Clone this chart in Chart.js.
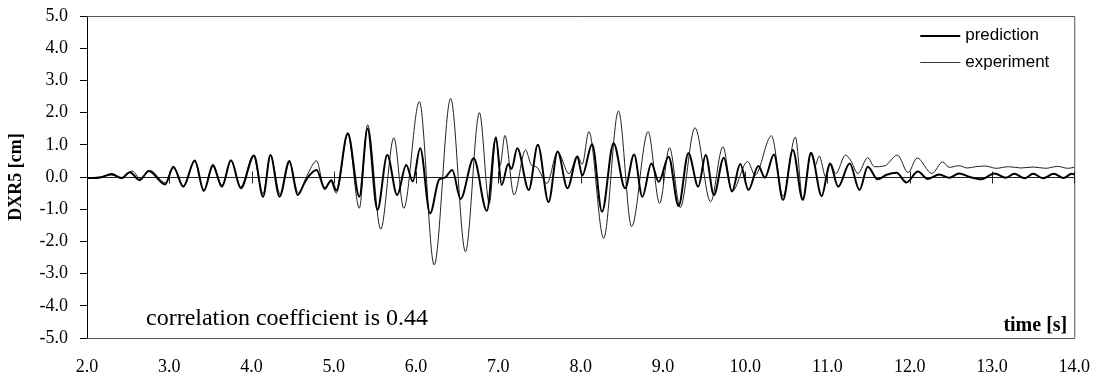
<!DOCTYPE html>
<html>
<head>
<meta charset="utf-8">
<script src="https://cdn.jsdelivr.net/npm/chart.js@4.4.1/dist/chart.umd.min.js"></script>
<style>
  html, body { margin: 0; padding: 0; background: #fff; }
  #wrap { width: 1100px; height: 385px; }
</style>
</head>
<body>
<div id="wrap"><canvas id="dxr5" width="1100" height="385"></canvas></div>
<script>
// time [s] and displacement [cm] at peaks and troughs
const predTime = [2.00, 2.15, 2.30, 2.42, 2.52, 2.64, 2.75, 2.95, 3.05, 3.17, 3.31, 3.42, 3.53, 3.64,
  3.75, 3.87, 4.03, 4.14, 4.23, 4.34, 4.46, 4.56, 4.64, 4.70, 4.79, 4.89, 4.97, 5.03, 5.17, 5.31,
  5.41, 5.53, 5.65, 5.77, 5.88, 5.96, 6.05, 6.17, 6.28, 6.35, 6.44, 6.54, 6.70, 6.86, 6.97, 7.04,
  7.12, 7.16, 7.23, 7.37, 7.48, 7.61, 7.72, 7.84, 7.96, 8.02, 8.14, 8.26, 8.40, 8.54, 8.65, 8.75,
  8.86, 8.95, 9.07, 9.19, 9.31, 9.43, 9.52, 9.62, 9.74, 9.84, 9.94, 10.04, 10.16, 10.24, 10.35,
  10.46, 10.58, 10.70, 10.80, 10.93, 11.03, 11.13, 11.27, 11.39, 11.49, 11.61, 11.72, 11.84, 11.96,
  12.10, 12.22, 12.36, 12.48, 12.60, 12.73, 12.87, 13.03, 13.17, 13.27, 13.40, 13.50, 13.62, 13.75,
  13.87, 13.97, 14.00];
const predValue = [-0.03, -0.02, 0.09, -0.03, 0.15, -0.10, 0.19, -0.23, 0.32, -0.30, 0.51, -0.43, 0.35, -0.30,
  0.52, -0.35, 0.67, -0.61, 0.68, -0.61, 0.50, -0.56, -0.20, 0.04, 0.22, -0.35, -0.10, -0.42, 1.36, -0.61,
  1.51, -1.02, 0.68, -0.56, 0.37, -0.14, 0.89, -1.13, -0.08, -0.02, 0.22, -0.68, 0.58, -1.05, 1.22, -0.25,
  0.40, 0.25, 0.89, -0.40, 1.00, -0.78, 0.79, -0.35, 0.63, 0.05, 1.02, -1.08, 1.05, -0.35, 0.70, -0.61,
  0.42, -0.15, 0.63, -0.90, 0.74, -0.30, 0.68, -0.56, 0.60, -0.45, 0.40, -0.40, 0.34, -0.02, 0.70,
  -0.71, 0.84, -0.71, 0.75, -0.59, 0.42, -0.30, 0.42, -0.40, 0.32, -0.07, 0.07, 0.13, -0.17,
  0.17, -0.06, 0.08, -0.02, 0.11, 0.00, -0.07, 0.11, -0.02, 0.10, -0.04, 0.10, -0.04, 0.10,
  -0.03, 0.10, 0.08];

const expTime = [2.00, 2.15, 2.30, 2.42, 2.55, 2.65, 2.77, 2.95, 3.05, 3.17, 3.31, 3.42, 3.53, 3.64,
  3.75, 3.87, 4.02, 4.14, 4.23, 4.35, 4.46, 4.57, 4.67, 4.79, 4.89, 4.96, 5.03, 5.17, 5.31, 5.41,
  5.57, 5.73, 5.85, 6.04, 6.22, 6.42, 6.60, 6.77, 6.89, 6.97, 7.02, 7.08, 7.19, 7.33, 7.40, 7.47,
  7.59, 7.72, 7.86, 7.96, 8.02, 8.10, 8.28, 8.46, 8.62, 8.82, 8.96, 9.08, 9.21, 9.39, 9.58, 9.73,
  9.84, 10.03, 10.12, 10.32, 10.46, 10.61, 10.70, 10.80, 10.85, 10.90, 10.98, 11.04, 11.10, 11.22,
  11.28, 11.37, 11.49, 11.57, 11.70, 11.85, 11.98, 12.09, 12.27, 12.40, 12.48, 12.60, 12.70, 12.80,
  12.92, 13.05, 13.20, 13.35, 13.50, 13.65, 13.80, 13.92, 14.00];
const expValue = [-0.03, 0.00, 0.06, -0.05, 0.18, -0.05, 0.20, -0.18, 0.28, -0.28, 0.48, -0.40, 0.40, -0.25,
  0.50, -0.30, 0.66, -0.52, 0.66, -0.55, 0.45, -0.50, 0.02, 0.50, -0.40, -0.12, -0.50, 1.32, -0.97, 1.62,
  -1.62, 1.22, -0.97, 2.34, -2.73, 2.44, -2.32, 2.00, -0.82, 1.25, 0.35, 1.29, -0.56, 0.84, 0.38, 0.30,
  -0.20, 0.78, 0.10, 0.66, 0.40, 1.41, -1.90, 2.05, -1.54, 1.41, -0.82, 0.91, -0.95, 1.53, -0.77, 0.94,
  -0.45, 0.48, 0.06, 1.28, -0.60, 1.24, -0.70, 0.72, 0.35, 0.65, 0.00, 0.42, 0.10, 0.68,
  0.53, 0.11, 0.60, 0.32, 0.35, 0.68, 0.14, 0.59, 0.11, 0.47, 0.30, 0.35, 0.28, 0.32,
  0.34, 0.27, 0.32, 0.28, 0.31, 0.27, 0.33, 0.27, 0.30];

const xTicks = [2, 3, 4, 5, 6, 7, 8, 9, 10, 11, 12, 13, 14];
const seriesNames = ['prediction', 'experiment'];

const serif = '"Liberation Serif", "Times New Roman", serif';
const sans = '"Liberation Sans", Arial, sans-serif';

function pairs(xs, ys) {
  return xs.map((x, i) => ({ x: x, y: ys[i] }));
}

// box round the plot, zero line with its cross ticks, legend and notes
const frame = {
  id: 'frame',
  beforeDatasetsDraw(chart) {
    const { ctx, chartArea: a, scales } = chart;
    const y0 = Math.round(scales.y.getPixelForValue(0)) + 0.5;
    ctx.save();
    ctx.strokeStyle = '#555';
    ctx.lineWidth = 1;
    ctx.beginPath();
    ctx.moveTo(a.left, a.top + 0.5); ctx.lineTo(a.right + 0.5, a.top + 0.5);
    ctx.lineTo(a.right + 0.5, a.bottom + 0.5); ctx.lineTo(a.left, a.bottom + 0.5);
    ctx.stroke();
    ctx.strokeStyle = '#222';
    ctx.beginPath();
    ctx.moveTo(a.left, y0); ctx.lineTo(a.right, y0);
    xTicks.slice(1).forEach(t => {
      const px = Math.round(scales.x.getPixelForValue(t)) + 0.5;
      ctx.moveTo(px, y0 - 6); ctx.lineTo(px, y0 + 6);
    });
    ctx.stroke();
    ctx.restore();
  },
  afterDraw(chart) {
    const { ctx, chartArea: a } = chart;
    ctx.save();
    // legend
    ctx.strokeStyle = '#000';
    ctx.lineWidth = 2;
    ctx.beginPath(); ctx.moveTo(a.right - 154, 36); ctx.lineTo(a.right - 114, 36); ctx.stroke();
    ctx.strokeStyle = '#333';
    ctx.lineWidth = 1;
    ctx.beginPath(); ctx.moveTo(a.right - 154, 62.5); ctx.lineTo(a.right - 114, 62.5); ctx.stroke();
    ctx.fillStyle = '#000';
    ctx.font = '17px ' + sans;
    ctx.textBaseline = 'middle';
    ctx.fillText(seriesNames[0], a.right - 109, 35);
    ctx.fillText(seriesNames[1], a.right - 109, 62);
    // notes
    ctx.font = '24px ' + serif;
    ctx.textBaseline = 'alphabetic';
    ctx.fillText('correlation coefficient is 0.44', 146, 325);
    ctx.font = 'bold 20px ' + serif;
    ctx.textAlign = 'right';
    ctx.fillText('time [s]', a.right - 7, 331);
    ctx.restore();
  }
};

const ctx = document.getElementById('dxr5').getContext('2d');
const chart = new Chart(ctx, {
  type: 'line',
  data: {
    datasets: [{
      label: seriesNames[0],
      data: pairs(predTime, predValue),
      borderColor: '#000',
      borderWidth: 2,
      pointRadius: 0,
      cubicInterpolationMode: 'monotone'
    }, {
      label: seriesNames[1],
      data: pairs(expTime, expValue),
      borderColor: '#222',
      borderWidth: 1,
      pointRadius: 0,
      cubicInterpolationMode: 'monotone'
    }]
  },
  options: {
    responsive: false,
    animation: false,
    layout: { padding: { left: 0, top: 16, right: 18, bottom: 0 } },
    plugins: { legend: { display: false }, tooltip: { enabled: false } },
    scales: {
      x: {
        type: 'linear',
        min: 2, max: 14,
        afterBuildTicks: s => { s.ticks = xTicks.map(v => ({ value: v })); },
        afterFit: s => { s.height = 47; },
        grid: { display: false },
        border: { display: false },
        ticks: {
          padding: 10,
          color: '#000',
          font: { family: serif, size: 18 },
          maxRotation: 0,
          callback: v => v.toFixed(1)
        }
      },
      y: {
        min: -5, max: 5,
        afterFit: s => { s.width = 87; s.paddingTop = 0; s.paddingBottom = 0; },
        grid: { drawOnChartArea: false, tickLength: 7, color: '#000' },
        border: { color: '#000' },
        ticks: {
          stepSize: 1,
          color: '#000',
          padding: 12,
          font: { family: serif, size: 18, lineHeight: 1 },
          callback: v => v.toFixed(1)
        },
        title: {
          display: true,
          text: 'DXR5 [cm]',
          color: '#000',
          font: { family: serif, size: 18, weight: 'bold' },
          padding: { top: 6, bottom: 0 }
        }
      }
    }
  },
  plugins: [frame]
});
</script>
</body>
</html>
